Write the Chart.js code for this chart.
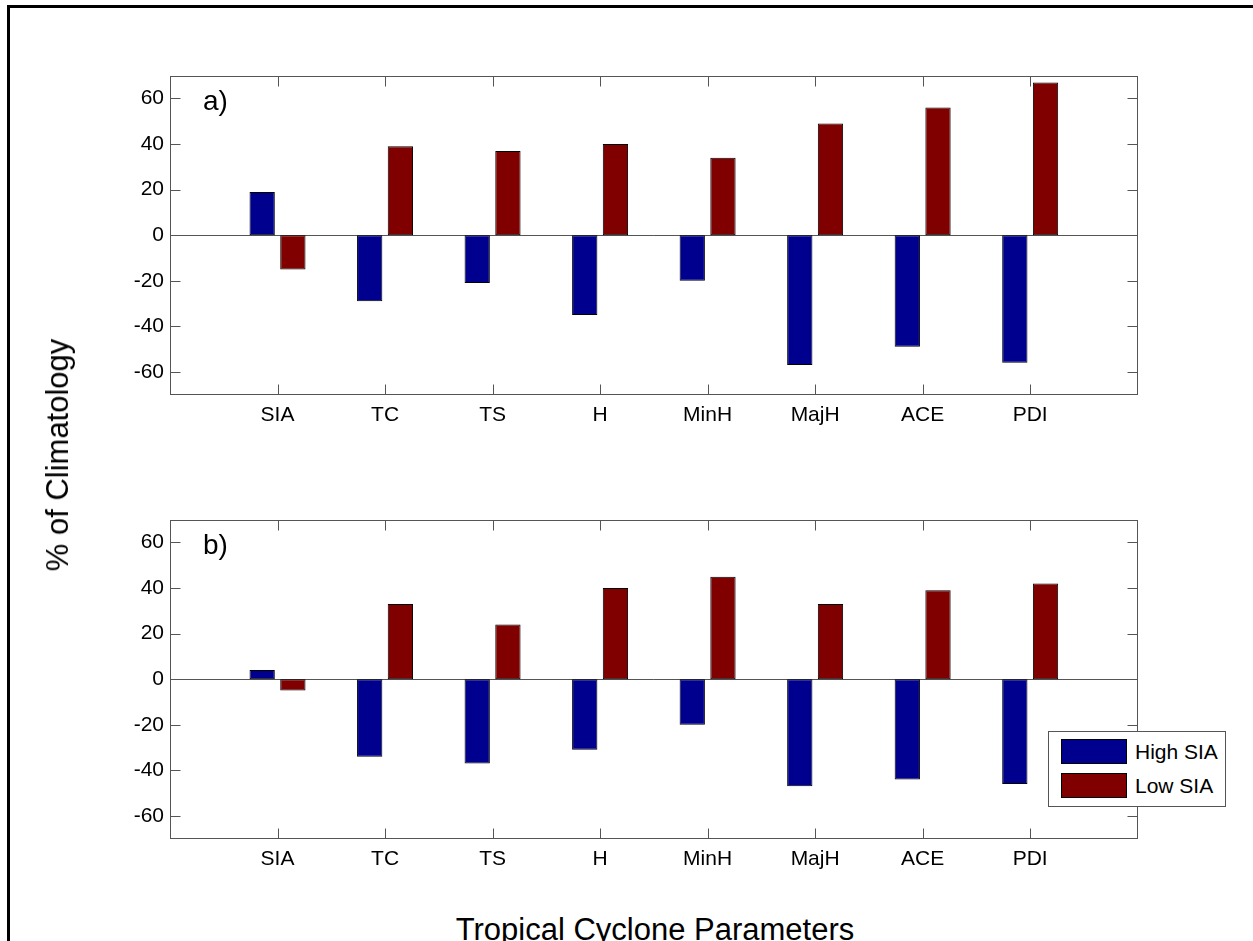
<!DOCTYPE html>
<html>
<head>
<meta charset="utf-8">
<script src="https://cdn.jsdelivr.net/npm/chart.js@4.4.1/dist/chart.umd.min.js"></script>
<style>
  body { margin: 0; width: 1253px; height: 941px; overflow: hidden; background: #fff; font-family: 'Liberation Sans', Arial, sans-serif; }
  .frame { position: absolute; left: 7px; top: 5px; width: 1400px; height: 1100px; border: 3px solid #000; box-sizing: border-box; }
  .panel { position: absolute; left: 0; width: 1253px; height: 450px; }
  #ylab { position: absolute; left: 58px; top: 455px; font-size: 31px; white-space: nowrap; transform: translate(-50%, -50%) rotate(-90deg); }
  #xlab { position: absolute; left: 655px; top: 912px; font-size: 31px; white-space: nowrap; transform: translateX(-50%); }
  #legend { position: absolute; left: 1048px; top: 731px; width: 178px; height: 76px; border: 1px solid #555; background: #fff; box-sizing: border-box; }
  .item { position: absolute; left: 12px; height: 25px; font-size: 21px; line-height: 25px; }
  .item span { position: absolute; left: 0; top: 0; width: 66px; height: 25px; border: 1px solid #000; box-sizing: border-box; }
  .item b { font-weight: normal; position: absolute; left: 74px; white-space: nowrap; }
</style>
</head>
<body>
<div class="frame"></div>
<canvas id="chartA" class="panel" width="1253" height="450" style="top:0"></canvas>
<canvas id="chartB" class="panel" width="1253" height="450" style="top:444px"></canvas>
<div id="ylab">% of Climatology</div>
<div id="xlab">Tropical Cyclone Parameters</div>
<div id="legend">
  <div class="item" style="top:7px"><span style="background:rgb(0,0,143)"></span><b>High SIA</b></div>
  <div class="item" style="top:41px"><span style="background:rgb(128,0,0)"></span><b>Low SIA</b></div>
</div>
<script>
const categories = ['SIA', 'TC', 'TS', 'H', 'MinH', 'MajH', 'ACE', 'PDI'];
const yTicks = [-60, -40, -20, 0, 20, 40, 60];

// a) panel
const highA = [19, -29, -21, -35, -20, -57, -49, -56];
const lowA = [-15, 39, 37, 40, 34, 49, 56, 67];

// b) panel
const highB = [4, -34, -37, -31, -20, -47, -44, -46];
const lowB = [-5, 33, 24, 40, 45, 33, 39, 42];

const blue = 'rgb(0,0,143)';
const red = 'rgb(128,0,0)';
const axisColor = '#555';

// box, inward ticks, zero line and panel letter
const axesPlugin = {
  id: 'matlabAxes',
  beforeDatasetsDraw(chart) {
    const {ctx, chartArea: a, scales} = chart;
    const y0 = Math.round(scales.y.getPixelForValue(0)) + 0.5;
    ctx.save();
    ctx.strokeStyle = axisColor;
    ctx.lineWidth = 1;
    ctx.beginPath();
    ctx.moveTo(a.left, y0);
    ctx.lineTo(a.right, y0);
    ctx.stroke();
    ctx.restore();
  },
  afterDatasetsDraw(chart, args, opts) {
    const {ctx, chartArea: a, scales} = chart;
    const L = Math.round(a.left) + 0.5, R = Math.round(a.right) - 0.5;
    const T = Math.round(a.top) + 0.5, B = Math.round(a.bottom) - 0.5;
    ctx.save();
    ctx.strokeStyle = axisColor;
    ctx.lineWidth = 1;
    ctx.strokeRect(L, T, R - L, B - T);
    ctx.beginPath();
    yTicks.forEach(v => {
      const y = Math.round(scales.y.getPixelForValue(v)) + 0.5;
      ctx.moveTo(L, y); ctx.lineTo(L + 10, y);
      ctx.moveTo(R, y); ctx.lineTo(R - 10, y);
    });
    categories.forEach((c, i) => {
      const x = Math.round(scales.x.getPixelForValue(i + 1)) + 0.5;
      ctx.moveTo(x, B); ctx.lineTo(x, B - 10);
      ctx.moveTo(x, T); ctx.lineTo(x, T + 10);
    });
    ctx.stroke();
    ctx.fillStyle = '#000';
    ctx.font = '28px "Liberation Sans", Arial, sans-serif';
    ctx.textBaseline = 'alphabetic';
    ctx.fillText(opts.letter, a.left + 33, a.top + 34);
    ctx.restore();
  }
};

function makePanel(id, letter, high, low) {
  return new Chart(document.getElementById(id), {
    type: 'bar',
    data: {
      datasets: [
        { label: 'High SIA', data: high.map((v, i) => ({ x: i + 1, y: v })), backgroundColor: blue },
        { label: 'Low SIA', data: low.map((v, i) => ({ x: i + 1, y: v })), backgroundColor: red }
      ]
    },
    options: {
      responsive: false,
      maintainAspectRatio: false,
      animation: false,
      devicePixelRatio: 1,
      layout: { padding: { top: 75.7, right: 115.3, left: 0, bottom: 0 } },
      datasets: {
        bar: {
          categoryPercentage: 0.571,
          barPercentage: 0.824,
          borderColor: '#000',
          borderWidth: 1,
          borderSkipped: false
        }
      },
      plugins: {
        legend: { display: false },
        tooltip: { enabled: false },
        matlabAxes: { letter: letter }
      },
      scales: {
        x: {
          type: 'linear',
          min: 0,
          max: 9,
          offset: false,
          grid: { display: false, drawTicks: false },
          border: { display: false },
          afterBuildTicks: s => { s.ticks = categories.map((c, i) => ({ value: i + 1 })); },
          afterFit: s => { s.height = 55.3; },
          ticks: {
            padding: 8,
            color: '#000',
            font: { size: 21, family: '"Liberation Sans", Arial, sans-serif' },
            callback: v => categories[v - 1],
            maxRotation: 0,
            autoSkip: false
          }
        },
        y: {
          min: -70,
          max: 70,
          grid: { display: false, drawTicks: false },
          border: { display: false },
          afterBuildTicks: s => { s.ticks = yTicks.map(v => ({ value: v })); },
          afterFit: s => { s.width = 170; },
          ticks: {
            padding: 6,
            color: '#000',
            font: { size: 21, family: '"Liberation Sans", Arial, sans-serif' }
          }
        }
      }
    },
    plugins: [axesPlugin]
  });
}

makePanel('chartA', 'a)', highA, lowA);
makePanel('chartB', 'b)', highB, lowB);
</script>
</body>
</html>
